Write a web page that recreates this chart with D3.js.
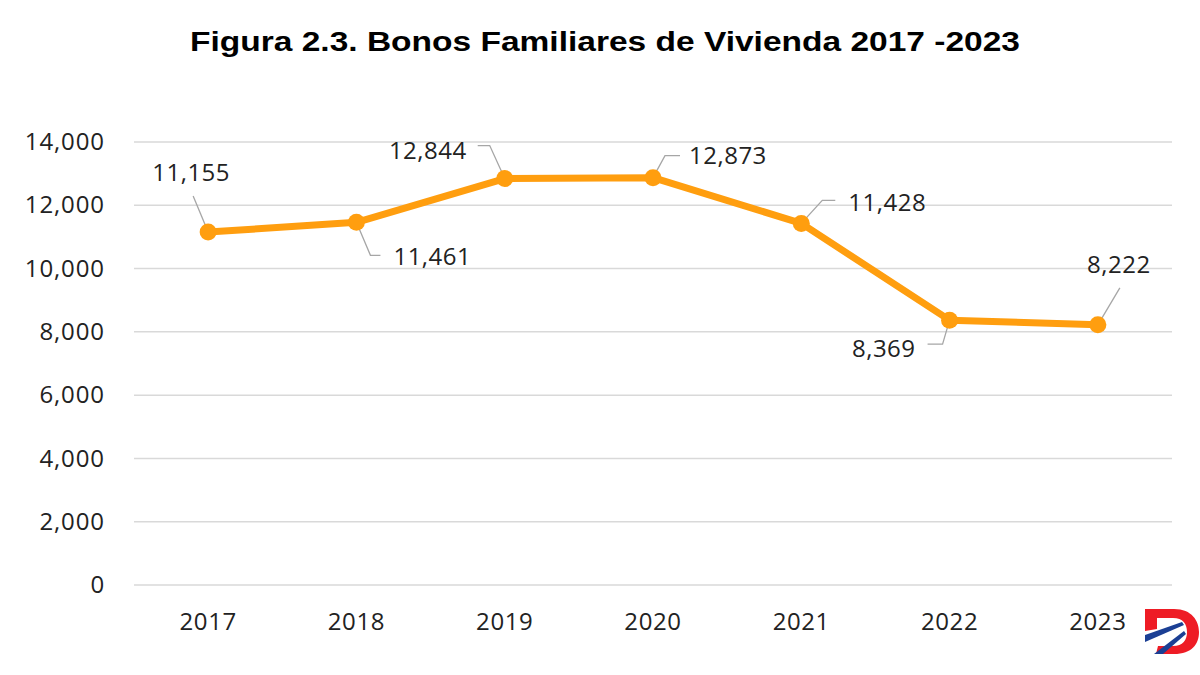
<!DOCTYPE html>
<html><head><meta charset="utf-8">
<script src="https://cdn.jsdelivr.net/npm/d3@7"></script>
<style>body{margin:0;background:#fff}svg{display:block}</style>
</head><body><svg id="c" width="1200" height="675"></svg>
<script>
const years = ["2017","2018","2019","2020","2021","2022","2023"];
const values = [11155, 11461, 12844, 12873, 11428, 8369, 8222];
const yTicks = [0, 2000, 4000, 6000, 8000, 10000, 12000, 14000];
const title = "Figura 2.3. Bonos Familiares de Vivienda 2017 -2023";

const svg = d3.select("#c");
const W = 1200, H = 675;
svg.append("rect").attr("width", W).attr("height", H).attr("fill", "#fff");

const x = d3.scaleBand().domain(years).range([134, 1172]).padding(0);
const y = d3.scaleLinear().domain([0, 14000]).range([585, 142]);
const font = "'Open Sans','Noto Sans',sans-serif";

svg.append("text").attr("x", 605).attr("y", 51).attr("text-anchor", "middle")
  .attr("font-family", "'Liberation Sans',Arial,sans-serif").attr("font-weight", "bold")
  .attr("font-size", 28).attr("fill", "#000")
  .attr("textLength", 830).attr("lengthAdjust", "spacingAndGlyphs").text(title);

// gridlines
svg.append("g").selectAll("line").data(yTicks).join("line")
  .attr("x1", 134).attr("x2", 1172)
  .attr("y1", d => y(d)).attr("y2", d => y(d))
  .attr("stroke", "#d9d9d9").attr("stroke-width", 1.5);

// y axis
const ya = svg.append("g").attr("transform", "translate(105,0)")
  .call(d3.axisLeft(y).tickValues(yTicks).tickSize(0).tickPadding(0).tickFormat(d3.format(",")));
ya.select(".domain").remove();
ya.selectAll("text").attr("font-family", font).attr("font-size", 24).attr("letter-spacing", 0.9).attr("fill", "#222");

// x axis
const xa = svg.append("g").attr("transform", "translate(0,622)")
  .call(d3.axisBottom(x).tickSize(0).tickPadding(0));
xa.select(".domain").remove();
xa.selectAll("text").attr("font-family", font).attr("font-size", 24).attr("letter-spacing", 0.6).attr("fill", "#222").attr("dy", "0.35em");

const data = years.map((yr, i) => ({yr, v: values[i]}));
const cx = d => x(d.yr) + x.bandwidth() / 2;

svg.append("path").datum(data)
  .attr("fill", "none").attr("stroke", "#FF9E0F").attr("stroke-width", 7).attr("stroke-linejoin", "round")
  .attr("d", d3.line().x(cx).y(d => y(d.v)));

// leader lines (offsets relative to point) and label positions
const leaders = [
  {pts: [[-15, -36]], lx: -17, ly: -59, anchor: "middle"},
  {pts: [[14, 33], [24, 33]], lx: 37, ly: 34, anchor: "start"},
  {pts: [[-15, -33], [-27, -33]], lx: -38, ly: -28, anchor: "end"},
  {pts: [[12, -22], [27, -22]], lx: 36, ly: -22, anchor: "start"},
  {pts: [[21, -23], [34, -23]], lx: 47, ly: -21, anchor: "start"},
  {pts: [[-7, 24], [-22, 24]], lx: -34, ly: 28, anchor: "end"},
  {pts: [[22, -37]], lx: 21, ly: -60, anchor: "middle"}
];
const g = svg.append("g");
data.forEach((d, i) => {
  const px = cx(d), py = y(d.v), L = leaders[i];
  const pts = [[px, py]].concat(L.pts.map(p => [px + p[0], py + p[1]]));
  g.append("path").attr("d", d3.line()(pts)).attr("fill", "none")
    .attr("stroke", "#a6a6a6").attr("stroke-width", 1.3);
});

svg.append("g").selectAll("circle").data(data).join("circle")
  .attr("cx", cx).attr("cy", d => y(d.v)).attr("r", 8.5).attr("fill", "#FF9E0F");

data.forEach((d, i) => {
  const px = cx(d), py = y(d.v), L = leaders[i];
  svg.append("text").attr("x", px + L.lx).attr("y", py + L.ly).attr("dy", "0.35em")
    .attr("text-anchor", L.anchor).attr("font-family", font).attr("font-size", 24)
    .attr("letter-spacing", 0.5).attr("fill", "#222").text(d3.format(",")(d.v));
});

// logo
const lg = svg.append("g").attr("transform", "translate(1144,609)");
lg.append("path").attr("fill", "#ee1c25")
  .attr("d", "M1,0 L30,0 C48,0 55,12 55,23 C55,35 48,45 30,45 L12,45 L14,37 L29,37 C39,37 43,31 43,23 C43,15 39,9 29,9 L13,9 L13,20 L1,22 Z");
lg.append("path").attr("fill", "#1b3f94").attr("d", "M1,26 L38,13 L40,16 L1,33 Z");
lg.append("path").attr("fill", "#1b3f94").attr("d", "M10,45 L40,22 L42,25 L19,45 Z");
</script>
</body></html>
